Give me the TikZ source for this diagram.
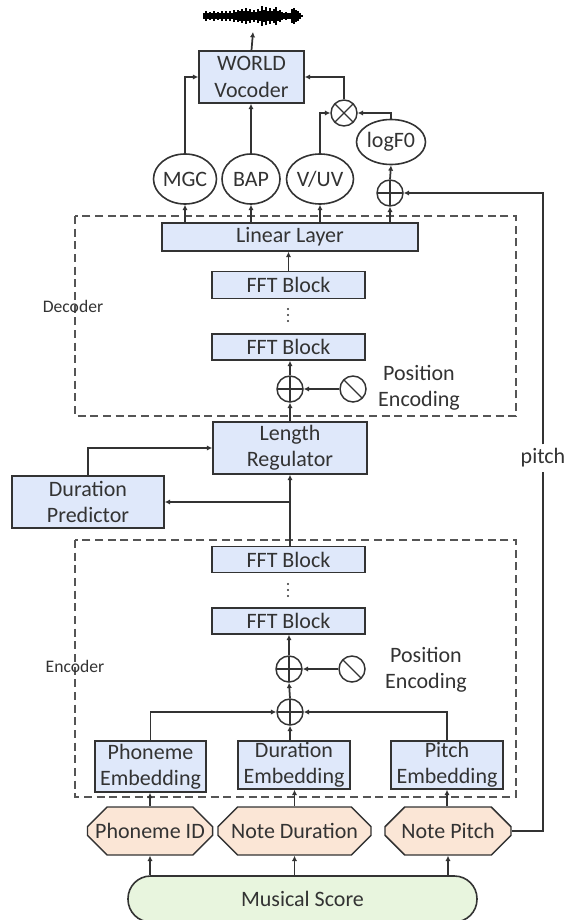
\documentclass[tikz,border=0pt]{standalone}
\usepackage{fontspec}
\setmainfont{Carlito}
\usetikzlibrary{arrows.meta,shapes.geometric,shapes.misc}
\definecolor{bluefill}{HTML}{DFE8FA}
\definecolor{orangefill}{HTML}{FBE6D6}
\definecolor{greenfill}{HTML}{E8F5DE}
\definecolor{ink}{HTML}{333333}
\definecolor{dashc}{HTML}{555555}
\tikzset{
  x=0.75pt,y=-0.75pt,
  every node/.style={text=ink,font=\fontsize{16.5}{19.8}\selectfont,align=center,inner sep=0pt},
  wh/.style 2 args={minimum width=#1*0.75pt,minimum height=#2*0.75pt},
  conn/.style={draw=ink,line width=1.3pt},
  arr/.style={conn,-{Latex[length=4pt,width=4pt]}},
  bluebox/.style={draw=ink,line width=1.2pt,fill=bluefill,rectangle},
  octa/.style={draw=ink,line width=1.1pt,fill=orangefill,chamfered rectangle,chamfered rectangle xsep=9pt,chamfered rectangle ysep=9pt,chamfered rectangle angle=45},
  scorebox/.style={draw=ink,line width=1.2pt,fill=greenfill,rectangle,rounded corners=17pt},
  oval/.style={draw=ink,line width=1.2pt,fill=white,ellipse},
  circ/.style={draw=ink,line width=1.1pt,fill=white,circle,minimum size=19.5pt},
  plusn/.style={circ,path picture={\draw[ink,line width=0.9pt]
     (path picture bounding box.north)--(path picture bounding box.south)
     (path picture bounding box.west)--(path picture bounding box.east);}},
  timesn/.style={circ,path picture={\draw[ink,line width=0.9pt]
     (path picture bounding box.north west)--(path picture bounding box.south east)
     (path picture bounding box.north east)--(path picture bounding box.south west);}},
  slashn/.style={circ,path picture={\draw[ink,line width=0.9pt]
     (path picture bounding box.north west)--(path picture bounding box.south east);}},
  dashbox/.style={draw=dashc,line width=0.9pt,dash pattern=on 6pt off 3.5pt},
  small/.style={font=\fontsize{13.2}{15}\selectfont},
  dotn/.style={fill=ink,draw=none,circle,minimum size=1.6pt},
}
\begin{document}
\begin{tikzpicture}
\useasboundingbox (0,0) rectangle (566,920);
% dashed frames
\draw[dashbox] (75,216) rectangle (516,416);
\draw[dashbox] (75,540) rectangle (516,797);
% waveform
\coordinate (wavetop) at (253,32);
\foreach \px/\hh in {204/3,206/5,208/3,210/4,212/3,214/5,216/3,218/4,220/3,222/5,224/3,226/5,228/3,230/5,232/3,234/6,236/4,238/6,240/5,242/7,244/5,246/8,248/5,250/7,252/4,254/6,256/4,258/7,260/5,262/10,264/6,266/9,268/5,270/8,272/5,274/7,276/9,278/5,280/6,282/4,284/3,286/4,288/3,290/3,292/7,294/8,296/6,298/5,300/3,302/1}
  \draw[black,line width=1.1pt] (\px,16.5-\hh) -- (\px,16.5+\hh);
% vocoder part
\node[bluebox,wh={105}{52}] (world) at (251.5,77) {WORLD\\Vocoder};
\node[oval,wh={63}{50}] (mgc) at (185,179) {MGC};
\node[oval,wh={58}{50}] (bap) at (251,179) {BAP};
\node[oval,wh={67}{50}] (vuv) at (320,179) {V/UV};
\node[oval,wh={69}{45}] (logf) at (391,142) {logF0};
\node[timesn] (ot) at (344,113) {};
\node[plusn] (opd) at (390,193) {};
\node[bluebox,wh={256}{28}] (linear) at (290,237) {Linear Layer};
% decoder
\node[bluebox,wh={153}{27}] (fftd1) at (288.5,285) {FFT Block};
\node[dotn] (dd1) at (288,309) {};
\node[dotn] (dd2) at (288,315) {};
\node[dotn] (dd3) at (288,321) {};
\node[bluebox,wh={153}{26}] (fftd2) at (288.5,347) {FFT Block};
\node[plusn] (pd) at (290,389) {};
\node[slashn] (sd) at (353,389) {};
\node (ptd) at (419,388) {Position\\Encoding};
\node[small] (decl) at (73,306) {Decoder};
% middle
\node[bluebox,wh={154}{52}] (lr) at (290,448) {Length\\Regulator};
\node[bluebox,wh={152}{52}] (dp) at (88,502) {Duration\\Predictor};
% encoder
\node[bluebox,wh={153}{26}] (ffte1) at (288.5,559.5) {FFT Block};
\node[dotn] (de1) at (288,584) {};
\node[dotn] (de2) at (288,590) {};
\node[dotn] (de3) at (288,596) {};
\node[bluebox,wh={153}{26}] (ffte2) at (288.5,621) {FFT Block};
\node[plusn] (pe1) at (289,669) {};
\node[slashn] (se) at (352,669) {};
\node (pte) at (426,669.5) {Position\\Encoding};
\node[plusn] (pe2) at (290,712) {};
\node[small] (encl) at (75,666) {Encoder};
% embeddings
\node[bluebox,wh={111}{51}] (phe) at (150.5,766.5) {Phoneme\\Embedding};
\node[bluebox,wh={112}{48}] (due) at (294,765) {Duration\\Embedding};
\node[bluebox,wh={112}{48}] (pie) at (447,765) {Pitch\\Embedding};
% inputs
\node[octa,wh={122}{48}] (phid) at (150,831) {Phoneme ID};
\node[octa,wh={153}{48}] (nd) at (294.5,831) {Note Duration};
\node[octa,wh={126}{48}] (np) at (448,831) {Note Pitch};
\node[scorebox,wh={349}{46}] (score) at (302.5,899) {Musical Score};
\node (pl) at (543,458) {pitch};
% connectors
\draw[arr] (world.north) -- (wavetop);
\draw[arr] (mgc.north) |- (world.west);
\draw[arr] (bap.north) -- (bap.north |- world.south);
\draw[arr] (vuv.north) |- (ot.west);
\draw[arr] (logf.north) |- (ot.east);
\draw[arr] (ot.north) |- (world.east);
\draw[arr] (opd.north) -- (logf.south);
\draw[arr] (linear.north -| mgc) -- (mgc.south);
\draw[arr] (linear.north -| bap) -- (bap.south);
\draw[arr] (linear.north -| vuv) -- (vuv.south);
\draw[arr] (linear.north -| opd) -- (opd.south);
\draw[arr] (fftd1.north) -- (fftd1.north |- linear.south);
\draw[arr] (pd.north) -- (pd.north |- fftd2.south);
\draw[arr] (sd.west) -- (pd.east);
\draw[arr] (lr.north) -- (pd.south);
\draw[arr] (ffte1.north -| lr) -- (lr.south);
\draw[arr] (ffte1.north |- dp.east) -- (dp.east);
\draw[arr] (dp.north) |- (lr.west);
\draw[arr] (pe1.north) -- (pe1.north |- ffte2.south);
\draw[arr] (se.west) -- (pe1.east);
\draw[arr] (pe2.north) -- (pe1.south);
\draw[arr] (phe.north) |- (pe2.west);
\draw[arr] (pie.north) |- (pe2.east);
\draw[arr] (due.north -| pe2) -- (pe2.south);
\draw[arr] (phid.north) -- (phid.north |- phe.south);
\draw[arr] (nd.north) -- (nd.north |- due.south);
\draw[arr] (np.north -| pie) -- (pie.south);
\draw[arr] (score.north -| phid) -- (phid.south);
\draw[arr] (score.north -| nd) -- (nd.south);
\draw[arr] (score.north -| np) -- (np.south);
\draw[conn] (np.east) -| ([yshift=-3pt]pl.south);
\draw[arr] ([yshift=3pt]pl.north) |- (opd.east);
\end{tikzpicture}
\end{document}
